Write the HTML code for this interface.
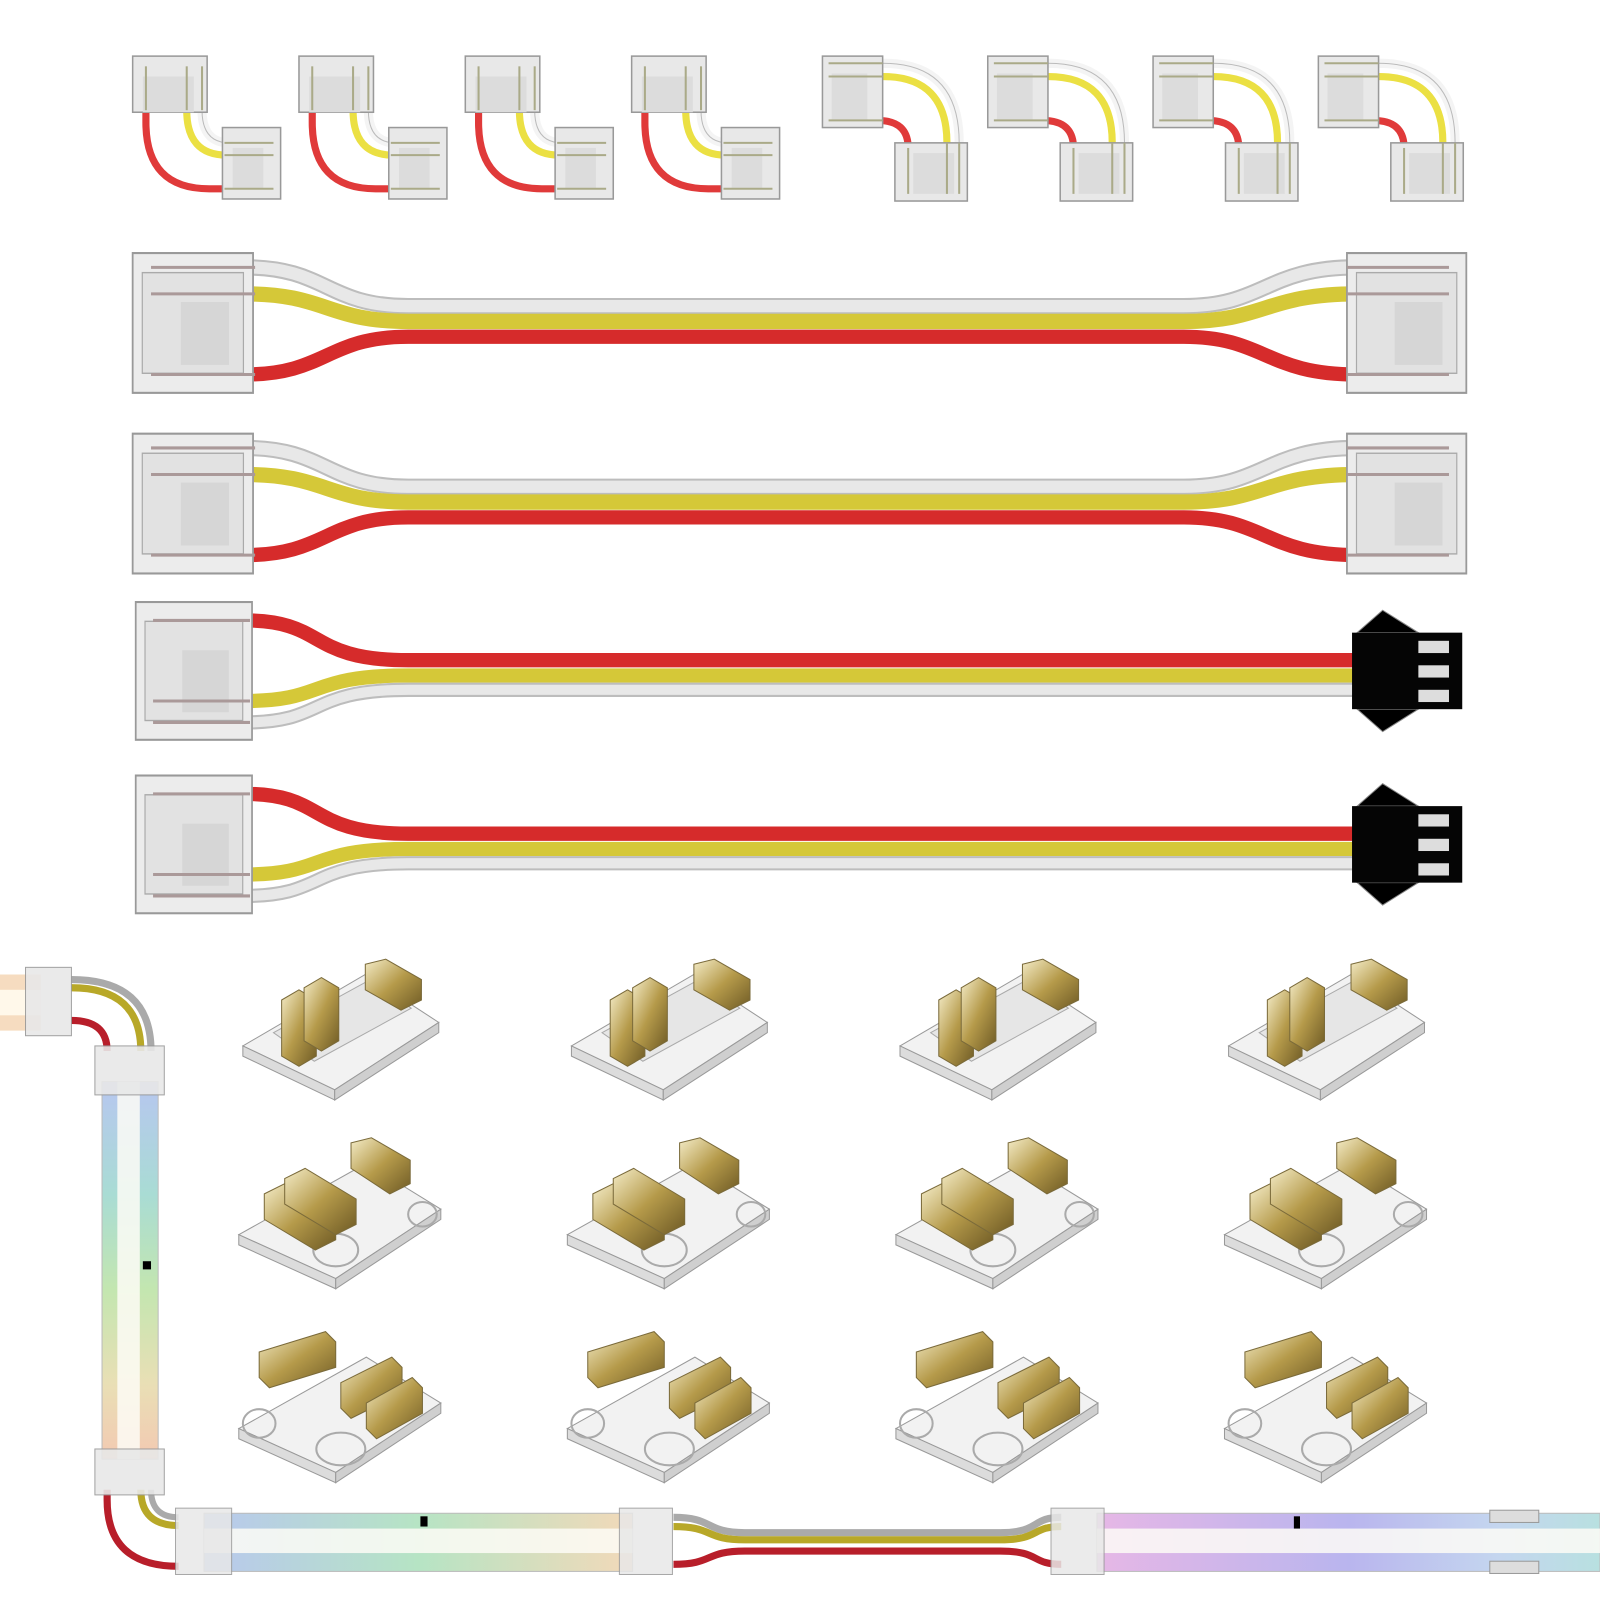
<!DOCTYPE html>
<html><head><meta charset="utf-8"><style>html,body{margin:0;padding:0;background:#fff}svg{display:block}</style></head><body>
<svg width="1600" height="1600" viewBox="0 0 1568 1568" xmlns="http://www.w3.org/2000/svg">
<defs>
<linearGradient id="gold" x1="0" y1="0" x2="1" y2="1"><stop offset="0" stop-color="#f4ecc8"/><stop offset="0.5" stop-color="#b59a4a"/><stop offset="1" stop-color="#6e5a25"/></linearGradient>
<linearGradient id="vstrip" x1="0" y1="0" x2="0" y2="1"><stop offset="0" stop-color="#b7c6f0"/><stop offset="0.3" stop-color="#a9dcd4"/><stop offset="0.55" stop-color="#c3e6b0"/><stop offset="0.8" stop-color="#e9dfb5"/><stop offset="1" stop-color="#f3c9b2"/></linearGradient>
<linearGradient id="h1" x1="0" y1="0" x2="1" y2="0"><stop offset="0" stop-color="#b8c8ee"/><stop offset="0.5" stop-color="#b6e4c4"/><stop offset="1" stop-color="#f2d9b9"/></linearGradient>
<linearGradient id="h2" x1="0" y1="0" x2="1" y2="0"><stop offset="0" stop-color="#e6b7e6"/><stop offset="0.5" stop-color="#b9b5ee"/><stop offset="0.8" stop-color="#c4d6ef"/><stop offset="1" stop-color="#b8e0e0"/></linearGradient>
<g id="blk">
 <rect x="0" y="0" width="100" height="100" fill="#ececec" stroke="#999" stroke-width="1.5"/>
 <rect x="8" y="14" width="84" height="72" fill="#e2e2e2" stroke="#aaa"/>
 <rect x="40" y="35" width="40" height="45" fill="#d6d6d6"/>
</g>
<g id="clipA">
 <polygon points="0,85 120,15 192,62 90,128" fill="#f2f2f2" stroke="#999"/>
 <polygon points="0,85 90,128 90,138 0,95" fill="#dcdcdc" stroke="#999"/>
 <polygon points="90,128 192,62 192,72 90,138" fill="#cfcfcf" stroke="#999"/>
 <polygon points="30,72 125,20 165,48 70,100" fill="#e6e6e6" stroke="#aaa"/>
 <polygon points="38,40 55,30 72,40 72,95 55,105 38,95" fill="url(#gold)" stroke="#7a6a3a"/>
 <polygon points="60,28 77,18 94,28 94,80 77,90 60,80" fill="url(#gold)" stroke="#7a6a3a"/>
 <polygon points="120,5 140,0 175,20 175,40 155,50 120,30" fill="url(#gold)" stroke="#7a6a3a"/>
</g>
<g id="clipB">
 <polygon points="0,95 125,25 198,70 95,138" fill="#f2f2f2" stroke="#999"/>
 <polygon points="0,95 95,138 95,148 0,105" fill="#dcdcdc" stroke="#999"/>
 <polygon points="95,138 198,70 198,80 95,148" fill="#cfcfcf" stroke="#999"/>
 <ellipse cx="95" cy="110" rx="22" ry="16" fill="none" stroke="#aaa" stroke-width="2"/>
 <ellipse cx="180" cy="75" rx="14" ry="12" fill="none" stroke="#aaa" stroke-width="2"/>
 <polygon points="25,55 45,45 95,75 95,100 75,110 25,80" fill="url(#gold)" stroke="#7a6a3a"/>
 <polygon points="45,40 65,30 115,60 115,85 95,95 45,65" fill="url(#gold)" stroke="#7a6a3a"/>
 <polygon points="110,5 130,0 168,22 168,45 148,55 110,30" fill="url(#gold)" stroke="#7a6a3a"/>
</g>
<g id="clipC">
 <polygon points="0,95 125,25 198,70 95,138" fill="#f2f2f2" stroke="#999"/>
 <polygon points="0,95 95,138 95,148 0,105" fill="#dcdcdc" stroke="#999"/>
 <polygon points="95,138 198,70 198,80 95,148" fill="#cfcfcf" stroke="#999"/>
 <ellipse cx="20" cy="90" rx="16" ry="14" fill="none" stroke="#aaa" stroke-width="2"/>
 <ellipse cx="100" cy="115" rx="24" ry="16" fill="none" stroke="#aaa" stroke-width="2"/>
 <polygon points="20,20 85,0 95,10 95,35 30,55 20,45" fill="url(#gold)" stroke="#7a6a3a"/>
 <polygon points="100,50 150,25 160,35 160,60 110,85 100,75" fill="url(#gold)" stroke="#7a6a3a"/>
 <polygon points="125,70 170,45 180,55 180,80 135,105 125,95" fill="url(#gold)" stroke="#7a6a3a"/>
</g>
<g id="L1">
 <path d="M143,108 L143,120 Q143,185 205,185 L220,185" fill="none" stroke="#e03a3a" stroke-width="7"/>
 <path d="M198,108 Q198,140 225,140" fill="none" stroke="#f4f4f4" stroke-width="9"/>
 <path d="M198,108 Q198,140 225,140" fill="none" stroke="#bbb" stroke-width="1"/>
 <path d="M183,108 Q183,152 222,152" fill="none" stroke="#ebe043" stroke-width="7"/>
 <rect x="130" y="55" width="73" height="55" fill="#e8e8e8" stroke="#999" stroke-width="1.5"/>
 <rect x="140" y="75" width="50" height="35" fill="#dcdcdc"/>
 <rect x="218" y="125" width="57" height="70" fill="#e8e8e8" stroke="#999" stroke-width="1.5"/>
 <rect x="228" y="145" width="30" height="40" fill="#dcdcdc"/>
 <line x1="143" y1="65" x2="143" y2="108" stroke="#aa8" stroke-width="2"/>
 <line x1="183" y1="65" x2="183" y2="108" stroke="#aa8" stroke-width="2"/>
 <line x1="198" y1="65" x2="198" y2="108" stroke="#aa8" stroke-width="2"/>
 <line x1="220" y1="140" x2="268" y2="140" stroke="#aa8" stroke-width="2"/>
 <line x1="220" y1="152" x2="268" y2="152" stroke="#aa8" stroke-width="2"/>
 <line x1="220" y1="185" x2="268" y2="185" stroke="#aa8" stroke-width="2"/>
</g>
<g id="L2">
 <path d="M865,62 Q940,62 940,140" fill="none" stroke="#f4f4f4" stroke-width="9"/>
 <path d="M865,62 Q940,62 940,140" fill="none" stroke="#bbb" stroke-width="1"/>
 <path d="M865,75 Q928,75 928,140" fill="none" stroke="#ebe043" stroke-width="7"/>
 <path d="M860,118 Q890,118 890,145" fill="none" stroke="#e03a3a" stroke-width="7"/>
 <rect x="806" y="55" width="59" height="70" fill="#e8e8e8" stroke="#999" stroke-width="1.5"/>
 <rect x="815" y="72" width="35" height="45" fill="#dcdcdc"/>
 <rect x="877" y="140" width="71" height="57" fill="#e8e8e8" stroke="#999" stroke-width="1.5"/>
 <rect x="895" y="150" width="40" height="40" fill="#dcdcdc"/>
 <line x1="812" y1="62" x2="865" y2="62" stroke="#aa8" stroke-width="2"/>
 <line x1="812" y1="75" x2="865" y2="75" stroke="#aa8" stroke-width="2"/>
 <line x1="812" y1="118" x2="865" y2="118" stroke="#aa8" stroke-width="2"/>
 <line x1="890" y1="145" x2="890" y2="190" stroke="#aa8" stroke-width="2"/>
 <line x1="928" y1="140" x2="928" y2="190" stroke="#aa8" stroke-width="2"/>
 <line x1="940" y1="140" x2="940" y2="190" stroke="#aa8" stroke-width="2"/>
</g>
<g id="ext">
 <path d="M240,262 C320,262 320,300 400,300 L1160,300 C1240,300 1240,262 1330,262" fill="none" stroke="#bdbdbd" stroke-width="16"/>
 <path d="M240,262 C320,262 320,300 400,300 L1160,300 C1240,300 1240,262 1330,262" fill="none" stroke="#e8e8e8" stroke-width="12"/>
 <path d="M240,288 C320,288 320,315 400,315 L1160,315 C1240,315 1240,288 1330,288" fill="none" stroke="#d5c838" stroke-width="15"/>
 <path d="M240,367 C320,367 320,330 400,330 L1160,330 C1240,330 1240,367 1330,367" fill="none" stroke="#d62b2b" stroke-width="14"/>
 <use href="#blk" transform="translate(130,248) scale(1.18,1.37)"/>
 <use href="#blk" transform="translate(1320,248) scale(1.17,1.37)"/>
 <line x1="148" y1="262" x2="250" y2="262" stroke="#a99" stroke-width="3"/>
 <line x1="148" y1="288" x2="250" y2="288" stroke="#a99" stroke-width="3"/>
 <line x1="148" y1="367" x2="250" y2="367" stroke="#a99" stroke-width="3"/>
 <line x1="1320" y1="262" x2="1420" y2="262" stroke="#a99" stroke-width="3"/>
 <line x1="1320" y1="288" x2="1420" y2="288" stroke="#a99" stroke-width="3"/>
 <line x1="1320" y1="367" x2="1420" y2="367" stroke="#a99" stroke-width="3"/>
</g>
<g id="pig">
 <path d="M240,608 C320,608 300,647 400,647 L1330,647" fill="none" stroke="#d62b2b" stroke-width="14"/>
 <path d="M240,687 C320,687 300,662 400,662 L1330,662" fill="none" stroke="#d5c838" stroke-width="14"/>
 <path d="M240,708 C320,708 300,676 400,676 L1330,676" fill="none" stroke="#bdbdbd" stroke-width="14"/>
 <path d="M240,708 C320,708 300,676 400,676 L1330,676" fill="none" stroke="#e8e8e8" stroke-width="10"/>
 <use href="#blk" transform="translate(133,590) scale(1.14,1.35)"/>
 <line x1="150" y1="608" x2="245" y2="608" stroke="#a99" stroke-width="3"/>
 <line x1="150" y1="687" x2="245" y2="687" stroke="#a99" stroke-width="3"/>
 <line x1="150" y1="708" x2="245" y2="708" stroke="#a99" stroke-width="3"/>
 <polygon points="1330,620 1390,620 1355,598" fill="#000" stroke="#888"/>
 <polygon points="1330,695 1390,695 1355,717" fill="#000" stroke="#888"/>
 <rect x="1325" y="620" width="108" height="75" fill="#050505"/>
 <rect x="1390" y="628" width="30" height="12" fill="#ddd"/>
 <rect x="1390" y="652" width="30" height="12" fill="#ddd"/>
 <rect x="1390" y="676" width="30" height="12" fill="#ddd"/>
</g>
</defs>
<rect width="1568" height="1568" fill="#fff"/>
<use href="#L1"/><use href="#L1" x="163"/><use href="#L1" x="326"/><use href="#L1" x="489"/>
<use href="#L2"/><use href="#L2" x="162"/><use href="#L2" x="324"/><use href="#L2" x="486"/>
<use href="#ext"/><use href="#ext" y="177"/>
<use href="#pig"/><use href="#pig" y="170"/>
<g transform="translate(238,940)"><use href="#clipA"/><use href="#clipA" x="322"/><use href="#clipA" x="644"/><use href="#clipA" x="966"/></g>
<g transform="translate(234,1115)"><use href="#clipB"/><use href="#clipB" x="322"/><use href="#clipB" x="644"/><use href="#clipB" x="966"/></g>
<g transform="translate(234,1305)"><use href="#clipC"/><use href="#clipC" x="322"/><use href="#clipC" x="644"/><use href="#clipC" x="966"/></g>
<!-- strip -->
<rect x="0" y="955" width="40" height="55" fill="#f6dcc0"/>
<rect x="0" y="970" width="40" height="25" fill="#fff8ea"/>
<rect x="100" y="1060" width="55" height="370" fill="url(#vstrip)" stroke="#bbb"/>
<rect x="115" y="1060" width="22" height="370" fill="#fdfbf6" opacity="0.85"/>
<rect x="140" y="1236" width="8" height="8" fill="#000"/>
<path d="M70,960 Q148,960 148,1030" fill="none" stroke="#aaa" stroke-width="7"/>
<path d="M70,968 Q138,968 138,1030" fill="none" stroke="#b8a828" stroke-width="7"/>
<path d="M70,1000 Q105,1000 105,1030" fill="none" stroke="#b81e2a" stroke-width="7"/>
<rect x="25" y="948" width="45" height="67" fill="#e8e8e8" stroke="#999" opacity="0.9"/>
<rect x="93" y="1025" width="68" height="48" fill="#e8e8e8" stroke="#999" opacity="0.9"/>
<path d="M105,1460 L105,1470 Q105,1535 175,1535" fill="none" stroke="#b81e2a" stroke-width="7"/>
<path d="M138,1460 Q138,1495 175,1495" fill="none" stroke="#b8a828" stroke-width="7"/>
<path d="M148,1460 Q148,1487 175,1487" fill="none" stroke="#aaa" stroke-width="6"/>
<rect x="93" y="1420" width="68" height="45" fill="#e8e8e8" stroke="#999" opacity="0.9"/>
<rect x="200" y="1483" width="420" height="57" fill="url(#h1)" stroke="#bbb"/>
<rect x="200" y="1498" width="420" height="24" fill="#fdfbf6" opacity="0.85"/>
<rect x="412" y="1486" width="7" height="10" fill="#000"/>
<rect x="1075" y="1483" width="493" height="57" fill="url(#h2)" stroke="#bbb"/>
<rect x="1075" y="1498" width="493" height="24" fill="#fdfbf6" opacity="0.85"/>
<rect x="1268" y="1486" width="6" height="12" fill="#000"/>
<path d="M660,1487 C700,1487 690,1502 730,1502 L980,1502 C1020,1502 1010,1487 1040,1487" fill="none" stroke="#aaa" stroke-width="7"/>
<path d="M660,1496 C700,1496 690,1509 730,1509 L980,1509 C1020,1509 1010,1496 1040,1496" fill="none" stroke="#b8a828" stroke-width="7"/>
<path d="M660,1533 C700,1533 690,1520 730,1520 L980,1520 C1020,1520 1010,1533 1040,1533" fill="none" stroke="#b81e2a" stroke-width="7"/>
<rect x="172" y="1478" width="55" height="65" fill="#e8e8e8" stroke="#999" opacity="0.85"/>
<rect x="607" y="1478" width="52" height="65" fill="#e8e8e8" stroke="#999" opacity="0.85"/>
<rect x="1030" y="1478" width="52" height="65" fill="#e8e8e8" stroke="#999" opacity="0.85"/>
<rect x="1460" y="1480" width="48" height="12" fill="#ddd" stroke="#999"/>
<rect x="1460" y="1530" width="48" height="12" fill="#ddd" stroke="#999"/>
</svg>
</body></html>
